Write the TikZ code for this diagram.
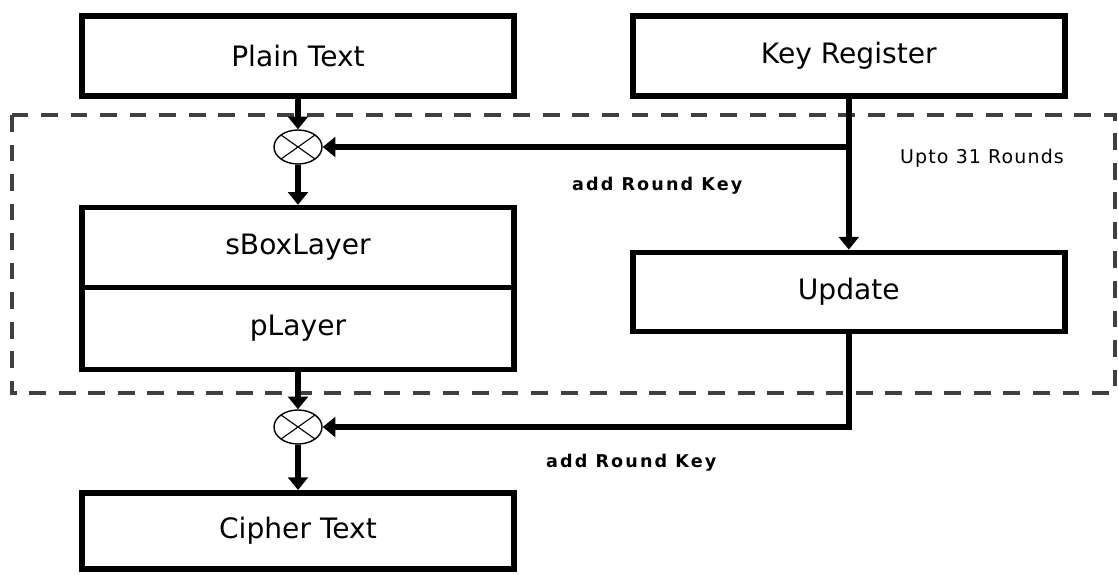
\documentclass[tikz,border=0pt]{standalone}
\usepackage{fontspec}
\setmainfont{DejaVu Sans}
\newfontfamily\keyfont[LetterSpace=12]{DejaVu Sans}
\newfontfamily\roundfont[LetterSpace=6]{DejaVu Sans}
\usetikzlibrary{positioning,arrows.meta,shapes.geometric}

\begin{document}
\begin{tikzpicture}[
    block/.style={draw, line width=4pt, minimum width=10.8cm, minimum height=2cm,
      inner sep=0pt, font=\fontsize{20}{24}\selectfont},
    xor/.style={draw, ellipse, line width=1pt, minimum width=1.2cm,
      minimum height=.85cm, inner sep=0pt,
      path picture={\draw[line width=.8pt]
        (path picture bounding box.north west) -- (path picture bounding box.south east)
        (path picture bounding box.south west) -- (path picture bounding box.north east);}},
    arr/.style={line width=4pt, -{Triangle[length=9pt,width=14pt]}},
    keylabel/.style={font=\keyfont\fontsize{12.5}{15}\selectfont\bfseries},
  ]
    \useasboundingbox (0,0) rectangle (27.95,-14.35);
    % round frame
    \draw[line width=2.8pt, black!75, dash pattern=on 12pt off 9pt]
    (.3,-2.875) rectangle (27.875,-9.825);
    % top row
    \node[block] (plain) at (7.45,-1.4) {Plain Text};
    \node[block] (key) at (21.22,-1.4) {Key Register};
    \node[xor] (xor1) at (7.45,-3.675) {};
    \node[block] (sbox) at (7.45,-6.19) {sBoxLayer};
    \node[block, minimum height=2.05cm, below=-4pt of sbox] (player) {pLayer};
    \node[block, minimum height=1.98cm] (update) at (21.22,-7.3) {Update};
    \node[xor] (xor2) at (7.45,-10.675) {};
    \node[block, minimum height=1.91cm] (cipher) at (7.45,-13.275) {Cipher Text};
    \node[keylabel] (addkey1) at (16.43,-4.65) {add Round Key};
    \node[keylabel] (addkey2) at (15.78,-11.575) {add Round Key};
    \node[font=\roundfont\fontsize{13.5}{16}\selectfont] (rounds) at (24.55,-3.95)
    {Upto 31 Rounds};
    \draw[arr] (plain) -- (xor1);
    \draw[arr] (xor1) -- (sbox);
    \draw[arr] (player) -- (xor2);
    \draw[arr] (xor2) -- (cipher);
    \draw[arr] (key) -- (update);
    \draw[arr] (key.south |- xor1) -- (xor1);
    \draw[arr] (update) |- (xor2);
  \end{tikzpicture}
\end{document}
